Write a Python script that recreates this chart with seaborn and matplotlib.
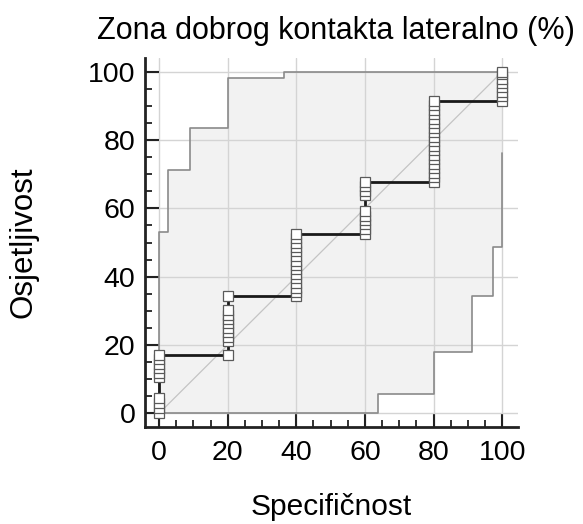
import numpy as np
import pandas as pd
import seaborn as sns
import matplotlib.pyplot as plt
from matplotlib.ticker import MultipleLocator

# ROC tocke (redoslijed puta)
roc_x = [0, 0, 0, 0, 0, 0, 0, 0, 0, 0,
         20, 20, 20, 20, 20, 20, 20, 20, 20, 20,
         40, 40, 40, 40, 40, 40, 40, 40, 40, 40, 40, 40, 40, 40, 40,
         60, 60, 60, 60, 60, 60, 60, 60, 60, 60,
         80, 80, 80, 80, 80, 80, 80, 80, 80, 80, 80, 80, 80, 80, 80, 80, 80, 80, 80,
         100, 100, 100, 100, 100, 100, 100, 100]
roc_y = [0, 1.5, 3.0, 4.5, 10.5, 11.8, 13.2, 14.5, 15.8, 17.1,
         17.1, 21.1, 22.4, 23.7, 25.0, 26.3, 27.6, 28.9, 30.3, 34.2,
         34.2, 35.5, 36.8, 38.2, 39.5, 40.8, 42.1, 43.4, 44.7, 46.1, 47.4, 48.7, 50.0, 51.3, 52.6,
         52.6, 53.9, 55.3, 56.6, 57.9, 59.2, 63.8, 65.1, 66.4, 67.8,
         67.8, 69.1, 70.4, 71.7, 73.0, 74.3, 75.7, 77.0, 78.3, 79.6, 80.9, 82.2, 83.6, 84.9, 86.2, 87.5, 88.8, 90.1, 91.4,
         91.4, 92.8, 94.1, 95.4, 96.7, 98.0, 99.3, 100]

# granice intervala pouzdanosti
gornja_x = [0, 0, 2.7, 2.7, 9.0, 9.0, 20.0, 20.0, 36.4, 36.4, 100]
gornja_y = [0, 53.1, 53.1, 71.3, 71.3, 83.5, 83.5, 98.2, 98.2, 100, 100]
donja_x = [0, 63.7, 63.7, 80.2, 80.2, 91.1, 91.1, 97.3, 97.3, 100, 100]
donja_y = [0, 0, 5.8, 5.8, 17.9, 17.9, 34.2, 34.2, 48.8, 48.8, 76.2]

ticks = [0, 20, 40, 60, 80, 100]

sns.set_theme(style="white")
plt.rcParams['font.family'] = ['Liberation Sans', 'DejaVu Sans']
plt.rcParams['text.color'] = 'black'
plt.rcParams['axes.labelcolor'] = 'black'
plt.rcParams['xtick.color'] = 'black'
plt.rcParams['ytick.color'] = 'black'

fig = plt.figure(figsize=(5.83, 5.24), dpi=100)
ax = fig.add_axes([0.2487, 0.1851, 0.6398, 0.7042])

# osjencano podrucje
poly_x = gornja_x + donja_x[::-1]
poly_y = gornja_y + donja_y[::-1]
ax.fill(poly_x, poly_y, color='#f2f2f2', zorder=0.1, lw=0)
ax.plot(gornja_x, gornja_y, color='#8a8a8a', lw=1.2, zorder=2)
ax.plot(donja_x, donja_y, color='#8a8a8a', lw=1.2, zorder=2)

# dijagonala
ax.plot([0, 100], [0, 100], color='#c4c4c4', lw=0.9, zorder=2)

df = pd.DataFrame({'x': roc_x, 'y': roc_y})
sns.lineplot(data=df, x='x', y='y', sort=False, estimator=None, ax=ax,
             color='#1a1a1a', lw=2, marker='s', markersize=7,
             markerfacecolor='white', markeredgecolor='#5a5a5a', markeredgewidth=0.9,
             zorder=3)

ax.set_xlim(-4.1, 104.6)
ax.set_ylim(-4, 104)
ax.set_xticks(ticks)
ax.set_yticks(ticks)
ax.xaxis.set_minor_locator(MultipleLocator(5))
ax.yaxis.set_minor_locator(MultipleLocator(5))
ax.tick_params(which='major', direction='in', length=10, width=1.5, labelsize=20.5,
               color='#222222', labelcolor='black', bottom=True, left=True, pad=7)
ax.tick_params(which='minor', direction='in', length=5, width=1.3,
               color='#222222', bottom=True, left=True)
ax.tick_params(axis='x', which='major', pad=9)

ax.set_axisbelow(True)
ax.grid(True, which='major', color='#d4d4d4', lw=1)

for s in ['top', 'right']:
    ax.spines[s].set_visible(False)
for s in ['left', 'bottom']:
    ax.spines[s].set_color('#222222')
    ax.spines[s].set_linewidth(2)

ax.set_title('Zona dobrog kontakta lateralno (%)', fontsize=22, pad=14, x=0.513, color='black')
ax.set_xlabel('Specifičnost', fontsize=21.5, color='black')
ax.set_ylabel('Osjetljivost', fontsize=22.5, color='black')
ax.xaxis.set_label_coords(0.5, -0.18)
ax.yaxis.set_label_coords(-0.285, 0.5)

fig.savefig('out.png', dpi=100)
